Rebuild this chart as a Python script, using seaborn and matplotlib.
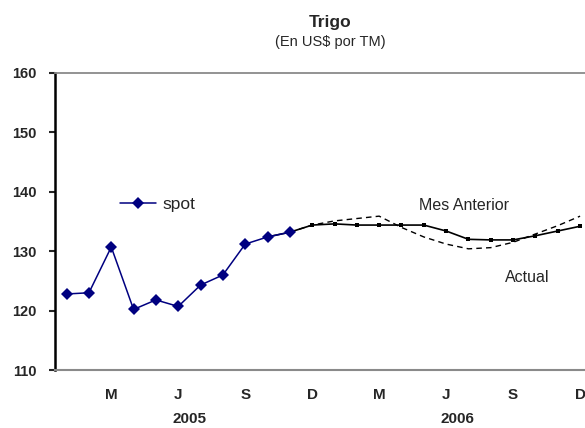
import pandas as pd
import matplotlib
matplotlib.use("Agg")
import matplotlib.pyplot as plt
import matplotlib.transforms as mtransforms
import seaborn as sns

# Months Jan 2005 .. Dec 2006 (Spanish initials used on the axis)
meses = ['E', 'F', 'M', 'A', 'M', 'J', 'J', 'A', 'S', 'O', 'N', 'D'] * 2
anios = ['2005'] * 12 + ['2006'] * 12
mes_tick = [False, False, True, False, False, True, False, False, True, False, False, True] * 2

# Spot price, Jan-Nov 2005
spot = [122.8, 123.0, 130.7, 120.2, 121.8, 120.7, 124.3, 126.0, 131.2, 132.4, 133.2]
# Futures curve "Actual", Oct 2005 .. Dec 2006
actual = [132.4, 133.2, 134.4, 134.6, 134.4, 134.4, 134.4, 134.4, 133.4,
          132.0, 131.9, 131.9, 132.6, 133.4, 134.2]
# Futures curve "Mes Anterior", Nov 2005 .. Dec 2006
anterior = [133.2, 134.4, 135.1, 135.5, 135.9, 134.0, 132.4, 131.2, 130.4,
            130.6, 131.5, 132.9, 134.3, 135.9]

n = len(meses)
df_spot = pd.DataFrame({'mes': range(len(spot)), 'precio': spot})
df_act = pd.DataFrame({'mes': range(n - len(actual), n), 'precio': actual})
df_ant = pd.DataFrame({'mes': range(n - len(anterior), n), 'precio': anterior})

sns.set_style("white")
plt.rcParams['font.family'] = ['Liberation Sans', 'DejaVu Sans']

fig = plt.figure(figsize=(5.85, 4.28), dpi=100)
ax = fig.add_axes([55 / 585, 1 - 370 / 428, 530 / 585, 297 / 428])

sns.lineplot(data=df_ant, x='mes', y='precio', ax=ax, color='black',
             linewidth=1.0, dashes=False, linestyle=(0, (4, 3)), zorder=2)
sns.lineplot(data=df_act, x='mes', y='precio', ax=ax, color='black',
             linewidth=1.2, marker='s', markersize=3.5, markeredgewidth=0, zorder=3)
sns.lineplot(data=df_spot, x='mes', y='precio', ax=ax, color='#000080',
             linewidth=1.1, marker='D', markersize=6.5, markeredgewidth=0,
             label='spot', zorder=4)

ax.set_xlim(-0.52, 23.22)
ax.set_ylim(110, 160)
ax.set_yticks(range(110, 161, 10))
ax.set_xticks([i for i in range(n) if mes_tick[i]])
ax.set_xticklabels([meses[i] for i in range(n) if mes_tick[i]])
ax.set_xlabel('')
ax.set_ylabel('')

ax.tick_params(axis='y', length=4, width=1.5, direction='out', pad=9,
               labelsize=10.5, left=True)
ax.tick_params(axis='x', length=0, pad=13, labelsize=11)
for lab in ax.get_xticklabels() + ax.get_yticklabels():
    lab.set_fontweight('bold')

ax.spines['right'].set_visible(False)
ax.spines['left'].set_color('black')
ax.spines['left'].set_linewidth(1.8)
ax.spines['bottom'].set_color('#8a8a8a')
ax.spines['bottom'].set_linewidth(1.5)
ax.spines['top'].set_color('#8a8a8a')
ax.spines['top'].set_linewidth(1.3)

# year labels centred under each year
trans = mtransforms.blended_transform_factory(ax.transData, ax.transAxes)
for anio in ['2005', '2006']:
    idx = [i for i in range(n) if anios[i] == anio]
    ax.text(sum(idx) / len(idx), -0.165, anio, transform=trans, ha='center',
            va='center', fontsize=11, fontweight='bold')

ax.text(0.687, 0.555, 'Mes Anterior', transform=ax.transAxes, fontsize=11.5,
        ha='left', va='center')
ax.text(0.849, 0.311, 'Actual', transform=ax.transAxes, fontsize=11.5,
        ha='left', va='center')

leg = ax.legend(loc='center left', bbox_to_anchor=(0.122, 0.556), frameon=False,
                fontsize=12.5, handlelength=2.1, handletextpad=0.35,
                borderpad=0, borderaxespad=0)

fig.text(330 / 585, 1 - 23 / 428, 'Trigo', ha='center', va='center',
         fontsize=12.5, fontweight='bold')
fig.text(330 / 585, 1 - 42 / 428, '(En US$ por TM)', ha='center', va='center',
         fontsize=10.5)

fig.savefig('out.png', dpi=100)
